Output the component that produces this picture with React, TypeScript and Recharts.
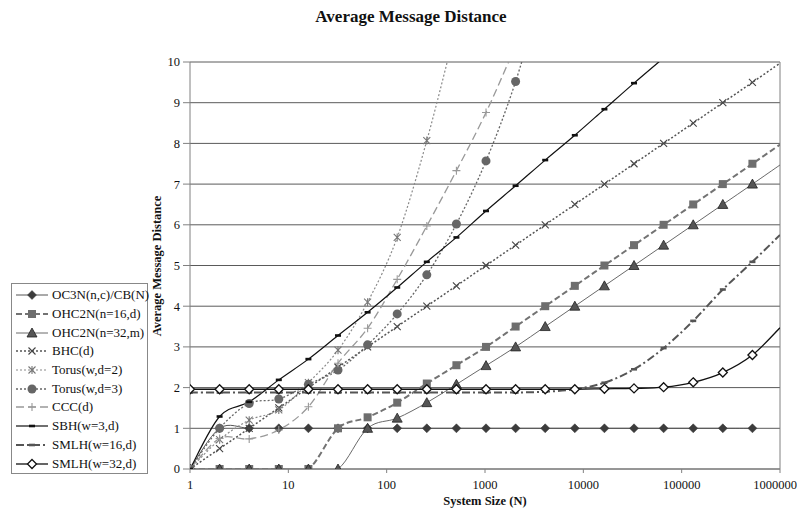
import { LineChart, Line, XAxis, YAxis, CartesianGrid, ReferenceLine } from 'recharts';

// system sizes (last entry = right edge of the plot, used only to carry lines to the border)
const sizes = [1, 2, 4, 8, 16, 32, 64, 128, 256, 512, 1024, 2048, 4096, 8192, 16384, 32768, 65536, 131072, 262144, 524288, 1000000];
const xTicks = [1, 10, 100, 1000, 10000, 100000, 1000000];
const yTicks = [0, 1, 2, 3, 4, 5, 6, 7, 8, 9, 10];

const oc3n = [0, 1, 1, 1, 1, 1, 1, 1, 1, 1, 1, 1, 1, 1, 1, 1, 1, 1, 1, 1, null];
const ohc16 = [0, 0, 0, 0, 0, 1, 1.27, 1.63, 2.1, 2.55, 3, 3.5, 4, 4.5, 5, 5.5, 6, 6.5, 7, 7.5, 7.97];
const ohc32 = [0, 0, 0, 0, 0, 0, 1, 1.25, 1.63, 2.08, 2.54, 3, 3.5, 4, 4.5, 5, 5.5, 6, 6.5, 7, 7.47];
const bhc = [0, 0.5, 1, 1.5, 2, 2.5, 3, 3.5, 4, 4.5, 5, 5.5, 6, 6.5, 7, 7.5, 8, 8.5, 9, 9.5, 9.97];
const torus2 = [0, 0.72, 1.2, 1.45, 2.12, 2.92, 4.1, 5.69, 8.07, 10.9, null, null, null, null, null, null, null, null, null, null, null];
const torus3 = [0, 1, 1.61, 1.72, 2.08, 2.43, 3.05, 3.81, 4.77, 6.02, 7.57, 9.52, 12, null, null, null, null, null, null, null, null];
const ccc = [0, 0.75, 0.74, 0.96, 1.53, 2.6, 3.46, 4.66, 5.97, 7.33, 8.76, 10.4, null, null, null, null, null, null, null, null, null];
const sbh = [0, 1.29, 1.65, 2.19, 2.7, 3.28, 3.85, 4.46, 5.09, 5.69, 6.34, 6.96, 7.59, 8.2, 8.84, 9.48, 10.1, null, null, null, null];
const smlh16 = [1.88, 1.88, 1.88, 1.88, 1.88, 1.88, 1.88, 1.88, 1.88, 1.88, 1.88, 1.88, 1.9, 1.96, 2.12, 2.45, 2.97, 3.64, 4.41, 5.09, 5.75];
const smlh32 = [1.96, 1.96, 1.96, 1.96, 1.96, 1.96, 1.96, 1.96, 1.96, 1.96, 1.96, 1.96, 1.96, 1.96, 1.97, 1.98, 2.01, 2.13, 2.37, 2.8, 3.47];

type MarkerKind = 'diamond' | 'openDiamond' | 'square' | 'triangle' | 'x' | 'star' | 'circle' | 'plus' | 'dash';

interface SeriesDef {
  key: string;
  name: string;
  values: (number | null)[];
  stroke: string;
  width: number;
  dash?: string;
  marker: MarkerKind;
  markerColor: string;
}

const SERIES: SeriesDef[] = [
  { key: 'oc3n', name: 'OC3N(n,c)/CB(N)', values: oc3n, stroke: '#555', width: 1, marker: 'diamond', markerColor: '#3c3c3c' },
  { key: 'ohc16', name: 'OHC2N(n=16,d)', values: ohc16, stroke: '#737373', width: 2, dash: '6 3', marker: 'square', markerColor: '#6e6e6e' },
  { key: 'ohc32', name: 'OHC2N(n=32,m)', values: ohc32, stroke: '#6a6a6a', width: 1, marker: 'triangle', markerColor: '#555' },
  { key: 'bhc', name: 'BHC(d)', values: bhc, stroke: '#555', width: 1.5, dash: '2 2', marker: 'x', markerColor: '#444' },
  { key: 'torus2', name: 'Torus(w,d=2)', values: torus2, stroke: '#8a8a8a', width: 1.2, dash: '2 2', marker: 'star', markerColor: '#777' },
  { key: 'torus3', name: 'Torus(w,d=3)', values: torus3, stroke: '#666', width: 1.3, dash: '2 2', marker: 'circle', markerColor: '#666' },
  { key: 'ccc', name: 'CCC(d)', values: ccc, stroke: '#999', width: 1.3, dash: '8 4', marker: 'plus', markerColor: '#999' },
  { key: 'sbh', name: 'SBH(w=3,d)', values: sbh, stroke: '#111', width: 1.2, marker: 'dash', markerColor: '#111' },
  { key: 'smlh16', name: 'SMLH(w=16,d)', values: smlh16, stroke: '#555', width: 2, dash: '8 3 2 3', marker: 'dash', markerColor: '#555' },
  { key: 'smlh32', name: 'SMLH(w=32,d)', values: smlh32, stroke: '#111', width: 1.3, marker: 'openDiamond', markerColor: '#111' },
];

const rows = sizes.map((n, i) => {
  const row: Record<string, number | null> = { n };
  SERIES.forEach(s => { row[s.key] = s.values[i]; });
  return row;
});

const FONT = "'Liberation Serif', 'DejaVu Serif', Times, serif";

// Excel-like smoothed line (Catmull-Rom through the points)
function excelSmooth(context: any) {
  let pts: number[][] = [];
  return {
    areaStart() {},
    areaEnd() {},
    lineStart() { pts = []; },
    point(x: number, y: number) { pts.push([+x, +y]); },
    lineEnd() {
      if (!pts.length) return;
      context.moveTo(pts[0][0], pts[0][1]);
      for (let i = 0; i < pts.length - 1; i++) {
        const p0 = pts[Math.max(i - 1, 0)];
        const p1 = pts[i];
        const p2 = pts[i + 1];
        const p3 = pts[Math.min(i + 2, pts.length - 1)];
        context.bezierCurveTo(
          p1[0] + (p2[0] - p0[0]) / 6, p1[1] + (p2[1] - p0[1]) / 6,
          p2[0] - (p3[0] - p1[0]) / 6, p2[1] - (p3[1] - p1[1]) / 6,
          p2[0], p2[1],
        );
      }
    },
  };
}

function Marker({ kind, x, y, color }: { kind: MarkerKind; x: number; y: number; color: string }) {
  switch (kind) {
    case 'diamond':
      return <path d={`M${x},${y - 4.5}L${x + 4.5},${y}L${x},${y + 4.5}L${x - 4.5},${y}Z`} fill={color} stroke={color} strokeWidth={0.5} />;
    case 'openDiamond':
      return <path d={`M${x},${y - 4.5}L${x + 4.5},${y}L${x},${y + 4.5}L${x - 4.5},${y}Z`} fill="#fff" stroke={color} strokeWidth={1.3} />;
    case 'square':
      return <rect x={x - 4} y={y - 4} width={8} height={8} fill={color} />;
    case 'triangle':
      return <path d={`M${x},${y - 5}L${x + 5},${y + 4}L${x - 5},${y + 4}Z`} fill={color} stroke="#222" strokeWidth={0.8} />;
    case 'x':
      return <path d={`M${x - 3.5},${y - 3.5}L${x + 3.5},${y + 3.5}M${x + 3.5},${y - 3.5}L${x - 3.5},${y + 3.5}`} stroke={color} strokeWidth={1.1} />;
    case 'star':
      return <path d={`M${x - 3.5},${y - 3.5}L${x + 3.5},${y + 3.5}M${x + 3.5},${y - 3.5}L${x - 3.5},${y + 3.5}M${x},${y - 4}L${x},${y + 4}`} stroke={color} strokeWidth={1.1} />;
    case 'circle':
      return <circle cx={x} cy={y} r={4.5} fill={color} />;
    case 'plus':
      return <path d={`M${x - 4},${y}L${x + 4},${y}M${x},${y - 4}L${x},${y + 4}`} stroke={color} strokeWidth={1.1} />;
    case 'dash':
      return <rect x={x - 3} y={y - 1.3} width={6} height={2.6} fill={color} />;
  }
  return null;
}

function makeDot(s: SeriesDef) {
  return (props: any) => {
    const { cx, cy, payload, index, value } = props;
    const hidden = cx == null || cy == null || value == null || payload.n > 600000 || value > 10;
    return (
      <g key={`${s.key}-${index}`}>
        {!hidden && <Marker kind={s.marker} x={cx} y={cy} color={s.markerColor} />}
      </g>
    );
  };
}

function ChartLegend() {
  return (
    <div
      style={{
        position: 'absolute', left: 11, top: 283, width: 137, height: 191,
        border: '1px solid #888', background: '#fff', paddingTop: 2, boxSizing: 'border-box',
        fontFamily: FONT, fontSize: 13, color: '#111',
      }}
    >
      {SERIES.map(s => (
        <div key={s.key} style={{ height: 18.7, display: 'flex', alignItems: 'center', whiteSpace: 'nowrap' }}>
          <svg width={36} height={12} style={{ marginLeft: 3, flex: 'none' }}>
            <line x1={1} y1={6} x2={33} y2={6} stroke={s.stroke} strokeWidth={s.width} strokeDasharray={s.dash} />
            <Marker kind={s.marker} x={17} y={6} color={s.markerColor} />
          </svg>
          <span style={{ marginLeft: 1 }}>{s.name}</span>
        </div>
      ))}
    </div>
  );
}

export default function App() {
  return (
    <div style={{ position: 'absolute', left: 0, top: 0, width: 797, height: 510, background: '#fff', overflow: 'hidden', fontFamily: FONT }}>
      <LineChart width={797} height={510} data={rows} margin={{ top: 62, right: 17, left: 0, bottom: 0 }} style={{ fontFamily: FONT }}>
        <CartesianGrid horizontal vertical={false} stroke="#5a5a5a" strokeWidth={1} />
        <XAxis
          dataKey="n"
          type="number"
          scale="log"
          domain={[1, 1000000]}
          ticks={xTicks}
          allowDataOverflow
          height={41}
          tickSize={4}
          tickMargin={7}
          stroke="#808080"
          tick={{ fontFamily: FONT, fontSize: 12.5, fill: '#111' }}
          tickFormatter={(v: number) => String(v)}
        />
        <YAxis
          type="number"
          domain={[0, 10]}
          ticks={yTicks}
          allowDataOverflow
          width={190}
          tickSize={7}
          tickMargin={3}
          stroke="#808080"
          tick={{ fontFamily: FONT, fontSize: 12.5, fill: '#111' }}
        />
        <ReferenceLine x={1000000} stroke="#808080" />
        {SERIES.map(s => (
          <Line
            key={s.key}
            dataKey={s.key}
            name={s.name}
            type={excelSmooth as any}
            stroke={s.stroke}
            strokeWidth={s.width}
            strokeDasharray={s.dash}
            dot={makeDot(s)}
            activeDot={false}
            isAnimationActive={false}
          />
        ))}
      </LineChart>
      <div
        style={{
          position: 'absolute', left: 411, top: 17, transform: 'translate(-50%, -50%)',
          fontFamily: FONT, fontWeight: 'bold', fontSize: 17, whiteSpace: 'nowrap', color: '#111',
        }}
      >
        Average Message Distance
      </div>
      <div
        style={{
          position: 'absolute', left: 157, top: 266, transform: 'translate(-50%, -50%) rotate(-90deg)',
          fontFamily: FONT, fontWeight: 'bold', fontSize: 12.5, whiteSpace: 'nowrap', color: '#111',
        }}
      >
        Average Message Distance
      </div>
      <div
        style={{
          position: 'absolute', left: 485, top: 501, transform: 'translate(-50%, -50%)',
          fontFamily: FONT, fontWeight: 'bold', fontSize: 12.5, whiteSpace: 'nowrap', color: '#111',
        }}
      >
        System Size (N)
      </div>
      <ChartLegend />
    </div>
  );
}
